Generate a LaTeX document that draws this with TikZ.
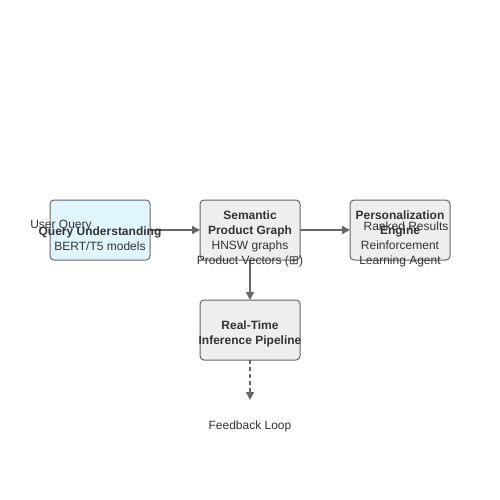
\documentclass[tikz,border=0pt]{standalone}
\usepackage{fontspec}
\setmainfont{Liberation Sans}
\newfontfamily\dejavu{DejaVu Sans}
\usetikzlibrary{positioning}
\usetikzlibrary{arrows.meta}
\definecolor{edgegray}{HTML}{666666}
\definecolor{boxgray}{HTML}{EEEEEE}
\definecolor{boxblue}{HTML}{E1F5FE}
\definecolor{txtgray}{HTML}{333333}

\begin{document}
\begin{tikzpicture}[x=1pt,y=-1pt,node distance=50pt,line width=1pt,
  box/.style={draw=edgegray,fill=boxgray,rounded corners=4pt,minimum width=100pt,minimum height=60pt,outer sep=0pt,inner sep=0pt},
  txt/.style={align=center,font=\fontsize{12}{15}\selectfont,text=txtgray,inner sep=0pt},
  link/.style={draw=edgegray,line width=1.5pt,-{Triangle[length=8pt,width=8pt]}}]
  \useasboundingbox (0,0) rectangle (500,500);
  \node[box,fill=boxblue](query) at (100,230) {};
  \node[box,right= of query](graph) {};
  \node[box,right= of graph](person) {};
  \node[box,below=40pt of graph](pipe) {};
  \coordinate[below=40pt of pipe](fbend);
  \draw[link] (query)--(graph);
  \draw[link] (graph)--(person);
  \draw[link] (graph)--(pipe);
  \draw[link,dash pattern=on 4pt off 3pt] (pipe)--(fbend);
  \node[txt](querytxt) at ([yshift=-8.5pt]query.center) {\textbf{Query Understanding}\\BERT/T5 models};
  \node[txt](graphtxt) at ([yshift=-1pt]graph.center) {\textbf{Semantic}\\\textbf{Product Graph}\\HNSW graphs};
  \node[txt](persontxt) at ([yshift=-8.5pt]person.center) {\textbf{Personalization}\\\textbf{Engine}\\Reinforcement\\Learning Agent};
  \node[txt](pipetxt) at ([yshift=-3.5pt]pipe.center) {\textbf{Real-Time}\\\textbf{Inference Pipeline}};
  \node[txt](userq) at (61,226) {User Query};
  \node[txt](vectors) at (250,261) {Product Vectors ({\dejavu ⊞})};
  \node[txt](ranked) at (406,226) {Ranked Results};
  \node[txt](feedback) at (250,426) {Feedback Loop};
\end{tikzpicture}
\end{document}
